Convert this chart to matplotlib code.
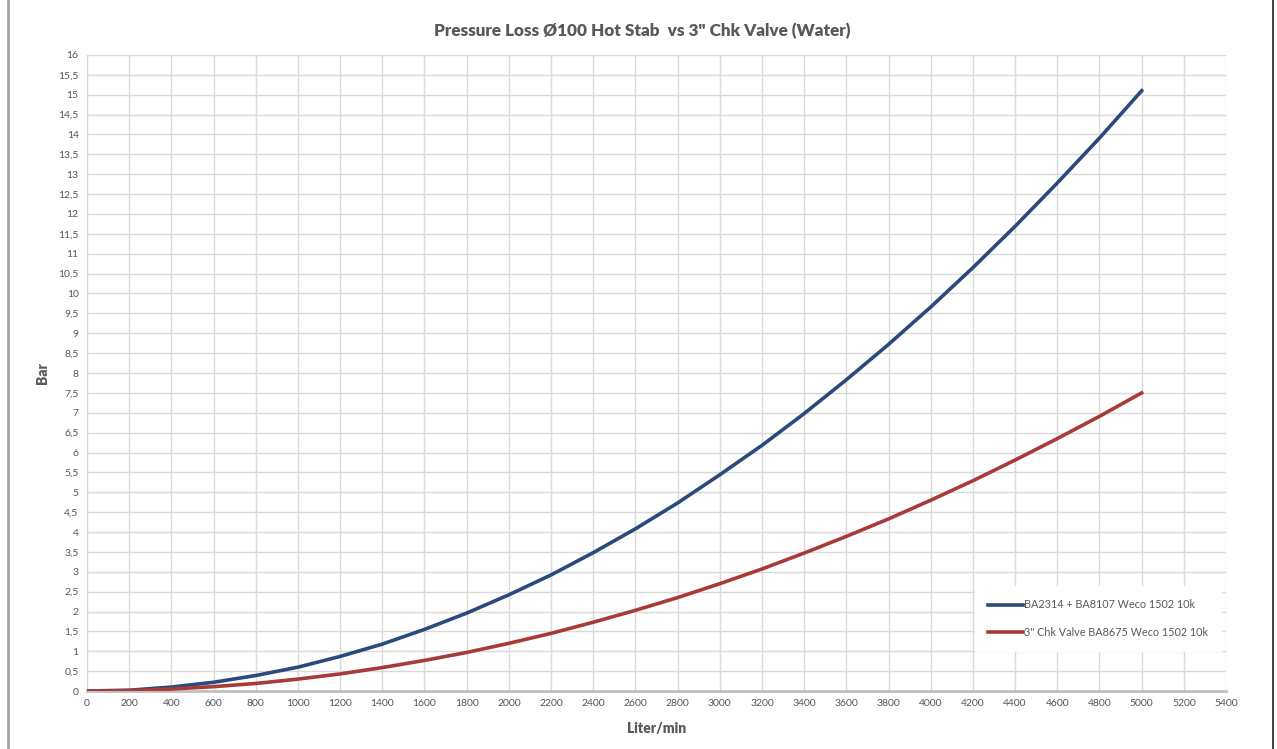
import numpy as np
import matplotlib.pyplot as plt
from matplotlib.lines import Line2D

# flow rate (liter/min) and pressure loss (bar)
flow = [0, 200, 400, 600, 800, 1000, 1200, 1400, 1600, 1800, 2000, 2200, 2400,
        2600, 2800, 3000, 3200, 3400, 3600, 3800, 4000, 4200, 4400, 4600, 4800, 5000]
hot_stab = [0, 0.02, 0.1, 0.22, 0.39, 0.6, 0.87, 1.18, 1.55, 1.96, 2.42, 2.92, 3.48,
            4.08, 4.73, 5.44, 6.18, 6.98, 7.83, 8.72, 9.66, 10.65, 11.69, 12.78, 13.91, 15.1]
chk_valve = [0, 0.01, 0.05, 0.11, 0.19, 0.3, 0.43, 0.59, 0.77, 0.97, 1.2, 1.45, 1.73,
             2.03, 2.35, 2.7, 3.07, 3.47, 3.89, 4.33, 4.8, 5.29, 5.81, 6.35, 6.91, 7.5]
labels = ['BA2314 + BA8107 Weco 1502 10k', '3" Chk Valve BA8675 Weco 1502 10k']

plt.rcParams['font.family'] = ['Lato', 'DejaVu Sans']
txt = '#595959'

fig = plt.figure(figsize=(12.77, 7.49), dpi=100)
ax = fig.add_axes([0.0681, 0.0774, 0.892, 0.8492])

ax.plot(flow, hot_stab, color='#2a4a7c', lw=2.6, label=labels[0], zorder=3)
ax.plot(flow, chk_valve, color='#a83a38', lw=2.6, label=labels[1], zorder=3)

ax.set_xlim(0, 5400)
ax.set_ylim(0, 16)
ax.set_xticks(np.arange(0, 5401, 200))
yt = np.arange(0, 16.01, 0.5)
ax.set_yticks(yt)
ax.set_yticklabels([('%g' % v).replace('.', ',') for v in yt])
ax.grid(True, color='#d9d9d9', lw=1.0, zorder=0)
ax.tick_params(axis='both', length=0, labelsize=7.5, colors='#505560', pad=6)
for s in ['top', 'right']:
    ax.spines[s].set_visible(False)
ax.spines['left'].set_color('#d9d9d9')
ax.spines['bottom'].set_color('#bfbfbf')
ax.spines['bottom'].set_linewidth(2)

fig.text(0.503, 0.958, 'Pressure Loss Ø100 Hot Stab  vs 3" Chk Valve (Water)',
         ha='center', va='center', fontsize=12.3, fontweight='heavy', color=txt)
ax.set_xlabel('Liter/min', fontsize=10, fontweight='heavy', color=txt, labelpad=10)
ax.set_ylabel('Bar', fontsize=10, fontweight='heavy', color=txt, labelpad=7)

leg = ax.legend(loc='lower right', bbox_to_anchor=(1.0, 0.055), fontsize=7.8,
                frameon=True, fancybox=False, handlelength=3.2, handletextpad=0.1,
                labelspacing=1.5, borderpad=1.2, labelcolor=txt)
leg.get_frame().set_edgecolor('white')
leg.get_frame().set_facecolor('white')
leg.get_frame().set_alpha(1)

# page frame
fig.add_artist(Line2D([0.0065, 0.0065], [0, 1], color='#a6a6a6', lw=2, transform=fig.transFigure))
fig.add_artist(Line2D([0.997, 0.997], [0, 1], color='#222222', lw=1.2, transform=fig.transFigure))

plt.savefig('out.png')
plt.close()
